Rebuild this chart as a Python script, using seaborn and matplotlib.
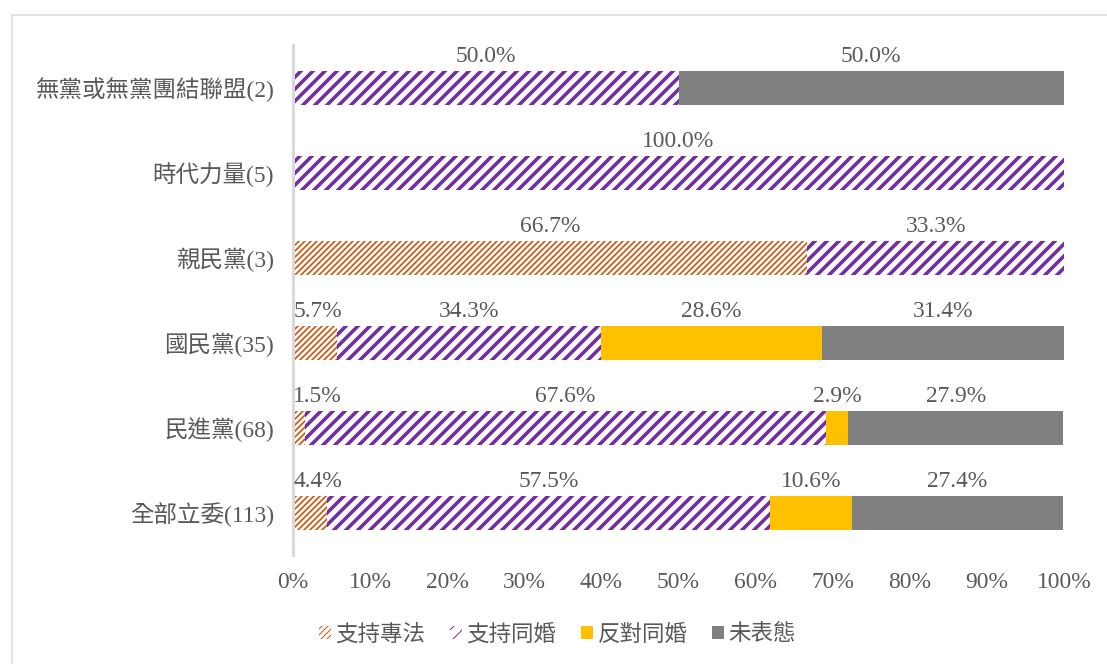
import numpy as np
import pandas as pd
import seaborn as sns
import matplotlib
import matplotlib.pyplot as plt
from matplotlib.patches import Patch, Rectangle

# ---- data ----
categories = ['無黨或無黨團結聯盟(2)', '時代力量(5)', '親民黨(3)', '國民黨(35)', '民進黨(68)', '全部立委(113)']
series_names = ['支持專法', '支持同婚', '反對同婚', '未表態']
support_special_law = [0.0, 0.0, 66.7, 5.7, 1.5, 4.4]
support_marriage = [50.0, 100.0, 33.3, 34.3, 67.6, 57.5]
oppose_marriage = [0.0, 0.0, 0.0, 28.6, 2.9, 10.6]
no_position = [50.0, 0.0, 0.0, 31.4, 27.9, 27.4]
xtick_values = [0, 10, 20, 30, 40, 50, 60, 70, 80, 90, 100]
xtick_labels = [f'{t}%' for t in xtick_values]

series_values = [support_special_law, support_marriage, oppose_marriage, no_position]

# ---- styles ----
ORANGE = '#C55A11'
PURPLE = '#7030A0'
YELLOW = '#FFC000'
GRAY = '#808080'
TXT = '#595959'
styles = [
    dict(face='white', edge=ORANGE, hatch='////', hlw=1.7),
    dict(face='white', edge=PURPLE, hatch='//', hlw=3.6),
    dict(face=YELLOW, edge=YELLOW, hatch=None, hlw=1.0),
    dict(face=GRAY, edge=GRAY, hatch=None, hlw=1.0),
]
FS = 23.5

sns.set_theme(style='white')
plt.rcParams['font.family'] = ['Liberation Serif', 'Noto Sans CJK TC']

W, H = 1107, 664
DPI = 72
fig = plt.figure(figsize=(W / DPI, H / DPI), dpi=DPI)
ax = fig.add_axes([293 / W, 1 - 555 / H, 771 / W, 510 / H])

vals = np.array(series_values)
cum = np.cumsum(vals, axis=0)

# draw cumulative bars from last series to first so earlier ones overlay
for k in range(len(series_names) - 1, -1, -1):
    st = styles[k]
    n_before = len(ax.patches)
    with plt.rc_context({'hatch.linewidth': st['hlw'], 'hatch.color': st['edge']}):
        df = pd.DataFrame({'cat': categories, 'val': cum[k]})
        sns.barplot(data=df, x='val', y='cat', orient='h', color=st['face'],
                    saturation=1, width=0.4, errorbar=None, ax=ax)
        for p in ax.patches[n_before:]:
            p.set_facecolor(st['face'])
            p.set_edgecolor(st['edge'])
            p.set_linewidth(0)
            if st['hatch']:
                p.set_hatch(st['hatch'])
                if hasattr(p, 'set_hatch_linewidth'):
                    p.set_hatch_linewidth(st['hlw'])

# value labels
for k in range(len(series_names)):
    prev = cum[k - 1] if k > 0 else np.zeros(len(categories))
    for j, v in enumerate(vals[k]):
        if v <= 0:
            continue
        xc = max(prev[j] + v / 2, 3.2)
        ax.text(xc, j - 0.2 - 0.04, f'{v:.1f}%', ha='center', va='bottom',
                fontsize=FS, color=TXT, family=['Liberation Serif'])

ax.set_xlim(0, 100)
ax.set_ylim(len(categories) - 0.5, -0.5)
ax.set_xticks(xtick_values)
ax.set_xticklabels(xtick_labels)
ax.set_xlabel('')
ax.set_ylabel('')
ax.tick_params(axis='x', length=0, pad=17, labelsize=FS, labelcolor=TXT)
ax.tick_params(axis='y', length=0, pad=19, labelsize=FS, labelcolor=TXT)
for s in ['top', 'right', 'bottom']:
    ax.spines[s].set_visible(False)
ax.spines['left'].set_color('#D9D9D9')
ax.spines['left'].set_linewidth(3)
ax.grid(False)
ax.set_facecolor('none')

# legend
handles = []
for k, name in enumerate(series_names):
    st = styles[k]
    with plt.rc_context({'hatch.linewidth': st['hlw'], 'hatch.color': st['edge']}):
        h = Patch(facecolor=st['face'], edgecolor=st['edge'], linewidth=0,
                  hatch=st['hatch'], label=name)
    handles.append(h)
leg = fig.legend(handles=handles, loc='center', bbox_to_anchor=(0.5036, 1 - 634 / H),
                 ncol=4, frameon=False, handlelength=0.52, handleheight=0.52,
                 handletextpad=0.22, columnspacing=1.08,
                 prop={'family': ['Noto Sans CJK TC'], 'size': 22.5})
for t in leg.get_texts():
    t.set_color(TXT)

# outer chart-area border
fig.patches.append(Rectangle((12 / W, -0.1), 1.2, (1 - 15 / H) + 0.1, transform=fig.transFigure,
                             fill=False, edgecolor='#D9D9D9', linewidth=1.5, zorder=0))

fig.savefig('out.png', dpi=DPI)
